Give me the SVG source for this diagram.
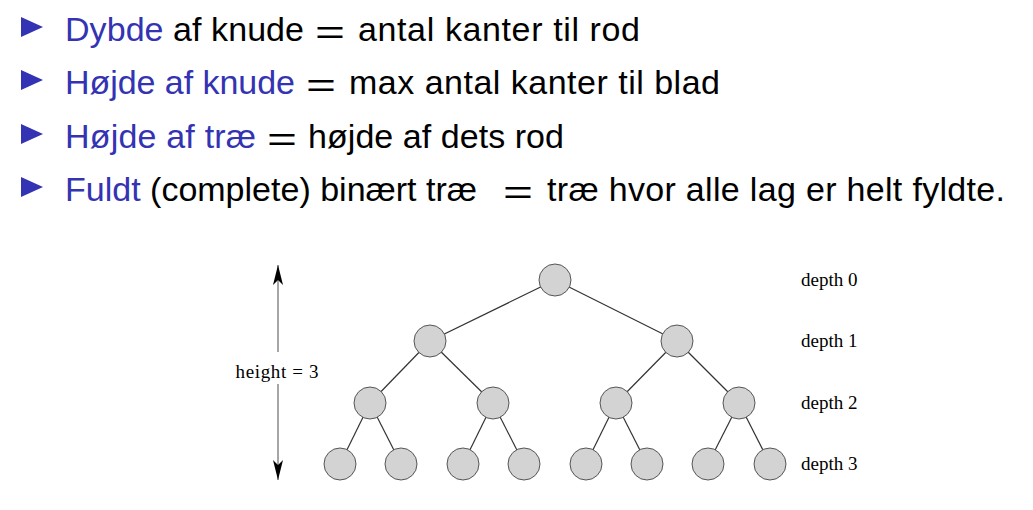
<svg xmlns="http://www.w3.org/2000/svg" width="1033" height="510" viewBox="0 0 1033 510">
<style>
.t{font-family:"Liberation Sans","Arial",sans-serif;font-size:34px;fill:#000}
.b{fill:#3333b3}
.eq{font-family:"Liberation Sans","Arial",sans-serif;font-size:34px;fill:#000}
.lbl{font-family:"Liberation Serif","Times New Roman",serif;font-size:19px;fill:#000}
.node{fill:#d3d3d3;stroke:#555;stroke-width:1}
.edge{stroke:#333;stroke-width:1.2;fill:none}
.bul{fill:#3333b3}
</style>
<defs>
<marker id="ah" viewBox="0 0 20 10" refX="20" refY="5" markerWidth="20" markerHeight="10" markerUnits="userSpaceOnUse" orient="auto">
<path d="M0,0 L20,5 L0,10 L5,5 Z" fill="#000"/>
</marker>
</defs>
<rect width="1033" height="510" fill="#fff"/>
<g id="bullets">
<path class="bul" d="M21,17 L43,27 L21,37 Z"/>
<path class="bul" d="M21,70 L43,80 L21,90 Z"/>
<path class="bul" d="M21,124 L43,134 L21,144 Z"/>
<path class="bul" d="M21,177 L43,187 L21,197 Z"/>
</g>
<g id="text-lines">
<text class="t" x="65" y="41" textLength="239" lengthAdjust="spacing"><tspan class="b">Dybde</tspan> af knude</text>
<text class="eq" x="315" y="44" textLength="30" lengthAdjust="spacingAndGlyphs">=</text>
<text class="t" x="358" y="41" textLength="282" lengthAdjust="spacing">antal kanter til rod</text>

<text class="t b" x="65" y="94" textLength="230" lengthAdjust="spacing">Højde af knude</text>
<text class="eq" x="306" y="97" textLength="30" lengthAdjust="spacingAndGlyphs">=</text>
<text class="t" x="349" y="94" textLength="371" lengthAdjust="spacing">max antal kanter til blad</text>

<text class="t b" x="65" y="148" textLength="191" lengthAdjust="spacing">Højde af træ</text>
<text class="eq" x="267" y="151" textLength="30" lengthAdjust="spacingAndGlyphs">=</text>
<text class="t" x="308" y="148" textLength="256" lengthAdjust="spacing">højde af dets rod</text>

<text class="t" x="65" y="201" textLength="412" lengthAdjust="spacing"><tspan class="b">Fuldt</tspan> (complete) binært træ</text>
<text class="eq" x="503" y="204" textLength="30" lengthAdjust="spacingAndGlyphs">=</text>
<text class="t" x="547" y="201" textLength="458" lengthAdjust="spacing">træ hvor alle lag er helt fyldte.</text>
</g>
<g id="connectors">
<line class="edge" x1="555" y1="280" x2="430" y2="341"/>
<line class="edge" x1="555" y1="280" x2="677" y2="341"/>
<line class="edge" x1="430" y1="341" x2="370" y2="403"/>
<line class="edge" x1="430" y1="341" x2="493" y2="403"/>
<line class="edge" x1="677" y1="341" x2="616" y2="403"/>
<line class="edge" x1="677" y1="341" x2="739" y2="403"/>
<line class="edge" x1="370" y1="403" x2="340" y2="464"/>
<line class="edge" x1="370" y1="403" x2="401" y2="464"/>
<line class="edge" x1="493" y1="403" x2="463" y2="464"/>
<line class="edge" x1="493" y1="403" x2="524" y2="464"/>
<line class="edge" x1="616" y1="403" x2="586" y2="464"/>
<line class="edge" x1="616" y1="403" x2="647" y2="464"/>
<line class="edge" x1="739" y1="403" x2="708" y2="464"/>
<line class="edge" x1="739" y1="403" x2="770" y2="464"/>
</g>
<g id="n0"><circle class="node" cx="555" cy="280" r="16"/></g>
<g id="n1"><circle class="node" cx="430" cy="341" r="16"/></g>
<g id="n2"><circle class="node" cx="677" cy="341" r="16"/></g>
<g id="n3"><circle class="node" cx="370" cy="403" r="16"/></g>
<g id="n4"><circle class="node" cx="493" cy="403" r="16"/></g>
<g id="n5"><circle class="node" cx="616" cy="403" r="16"/></g>
<g id="n6"><circle class="node" cx="739" cy="403" r="16"/></g>
<g id="n7"><circle class="node" cx="340" cy="464" r="16"/></g>
<g id="n8"><circle class="node" cx="401" cy="464" r="16"/></g>
<g id="n9"><circle class="node" cx="463" cy="464" r="16"/></g>
<g id="n10"><circle class="node" cx="524" cy="464" r="16"/></g>
<g id="n11"><circle class="node" cx="586" cy="464" r="16"/></g>
<g id="n12"><circle class="node" cx="647" cy="464" r="16"/></g>
<g id="n13"><circle class="node" cx="708" cy="464" r="16"/></g>
<g id="n14"><circle class="node" cx="770" cy="464" r="16"/></g>
<g id="depth-labels">
<text class="lbl" x="801" y="286">depth 0</text>
<text class="lbl" x="801" y="347">depth 1</text>
<text class="lbl" x="801" y="409">depth 2</text>
<text class="lbl" x="801" y="470">depth 3</text>
</g>
<g id="height-arrow">
<line x1="278" y1="352" x2="278" y2="265" stroke="#888" stroke-width="1.5" marker-end="url(#ah)"/>
<line x1="278" y1="384" x2="278" y2="480" stroke="#888" stroke-width="1.5" marker-end="url(#ah)"/>
<text class="lbl" x="277" y="378" text-anchor="middle" textLength="83" lengthAdjust="spacing">height = 3</text>
</g>
</svg>
